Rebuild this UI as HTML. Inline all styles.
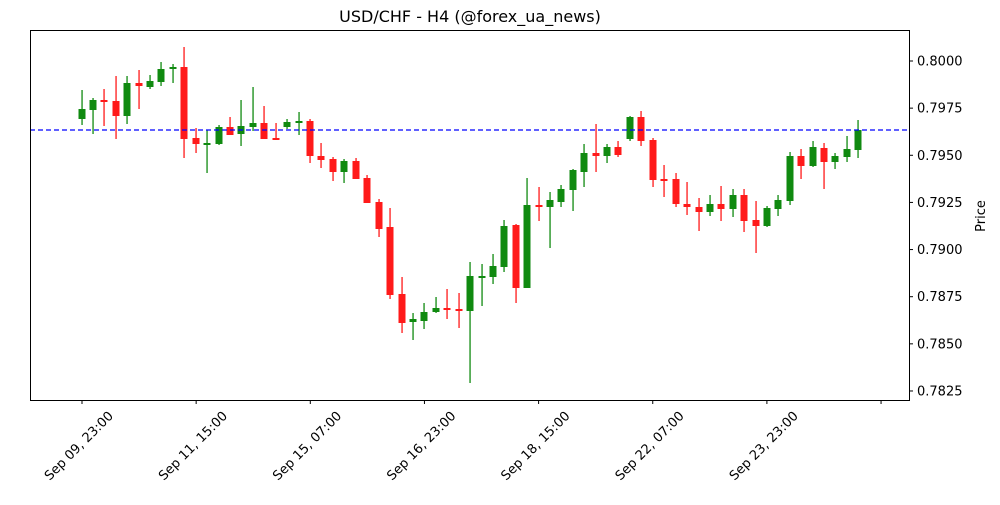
<!DOCTYPE html>
<html><head><meta charset="utf-8"><style>
body{margin:0;background:#fff;width:1000px;height:500px;overflow:hidden;font-family:"Liberation Sans","DejaVu Sans",sans-serif}
</style></head><body>
<svg id="s" width="1000" height="500" xmlns="http://www.w3.org/2000/svg" font-family="DejaVu Sans, Liberation Sans, sans-serif">
<rect x="0" y="0" width="1000" height="500" fill="#fff"/>
<text x="470" y="22" font-size="16" text-anchor="middle" fill="#000">USD/CHF - H4 (@forex_ua_news)</text>
<g id="c"></g>
<line x1="30" y1="130" x2="909" y2="130" stroke="#0000ff" stroke-width="1.2" stroke-dasharray="5,3"/>
<rect x="30.5" y="30.5" width="879" height="370" fill="none" stroke="#000" stroke-width="1"/>
<g id="ax" font-size="13" fill="#000"></g>
<text transform="translate(985,216) rotate(-90)" font-size="13" text-anchor="middle">Price</text>
</svg>
<script>
var d=[
[82,109,119,90,125,1],[93,110,100,98,134,1],[104,100,102,89,126,0],[116,101,116,76,139,0],[127,116,83,76,124,1],
[139,83,86,70,109,0],[150,87,81,75,89,1],[161,82,69,62,86,1],[173,69,67,64,83,1],[184,67,139,47,158,0],
[196,138,144,128,153,0],[207,145,143,130,173,1],[219,144,127,125,145,1],[230,127,135,117,135,0],[241,134,126,100,146,1],
[253,127,123,87,131,1],[264,123,139,106,139,0],[276,138,139,123,140,0],[287,127,122,119,129,1],[299,122,121,112,135,1],
[310,121,156,119,163,0],[321,156,160,143,168,0],[333,159,172,157,181,0],[344,172,161,159,183,1],[356,161,179,158,179,0],
[367,178,203,175,203,0],[379,202,229,199,237,0],[390,227,295,208,299,0],[402,294,323,277,333,0],[413,322,319,313,340,1],
[424,321,312,303,329,1],[436,312,308,297,313,1],[447,308,310,289,319,0],[459,309,311,293,328,0],[470,311,276,262,383,1],
[482,278,276,264,306,1],[493,277,266,254,284,1],[504,267,226,220,272,1],[516,225,288,224,303,0],[527,288,205,178,288,1],
[539,205,207,187,221,0],[550,207,200,192,248,1],[561,202,189,185,207,1],[573,190,170,169,211,1],[584,172,153,144,187,1],
[596,153,156,124,172,0],[607,156,147,144,163,1],[618,147,155,141,157,0],[630,139,117,116,141,1],[641,117,141,111,146,0],
[653,140,180,138,187,0],[664,179,180,165,197,0],[676,179,204,173,207,0],[687,204,207,182,215,0],[699,207,212,198,231,0],
[710,212,204,195,216,1],[721,204,209,186,221,0],[733,209,195,189,217,1],[744,195,221,189,232,0],[756,220,226,201,253,0],
[767,226,208,206,227,1],[778,209,200,195,216,1],[790,201,156,152,205,1],[801,156,166,149,179,0],[813,166,147,141,167,1],
[824,148,162,143,189,0],[835,162,156,153,169,1],[847,157,149,136,162,1],[858,150,130,120,158,1]];
var h='';
d.forEach(function(c){var col=c[5]?'#108a10':'#ff1a1a';var t=Math.min(c[1],c[2]),b=Math.max(c[1],c[2]);if(b-t<2){b=t+2;}
h+='<rect x="'+(c[0]-0.6)+'" y="'+c[3]+'" width="1.3" height="'+(c[4]-c[3])+'" fill="'+col+'"/>';
h+='<rect x="'+(c[0]-3.5)+'" y="'+t+'" width="7" height="'+(b-t)+'" fill="'+col+'"/>';});
document.getElementById('c').innerHTML=h;
var a='';
var p=['0.8000','0.7975','0.7950','0.7925','0.7900','0.7875','0.7850','0.7825'];
p.forEach(function(s,i){var y=61+i*47.14;a+='<line x1="909" y1="'+y+'" x2="913" y2="'+y+'" stroke="#000"/><text x="917" y="'+(y+4.5)+'">'+s+'</text>';});
var xl=['Sep 09, 23:00','Sep 11, 15:00','Sep 15, 07:00','Sep 16, 23:00','Sep 18, 15:00','Sep 22, 07:00','Sep 23, 23:00',''];
xl.forEach(function(s,i){var x=82+i*114.15;a+='<line x1="'+x+'" y1="400" x2="'+x+'" y2="404" stroke="#000"/>';
if(s)a+='<text transform="translate('+(x-3)+',446) rotate(-45)" text-anchor="middle" dy="4">'+s+'</text>';});
document.getElementById('ax').innerHTML=a;
</script>
</body></html>
